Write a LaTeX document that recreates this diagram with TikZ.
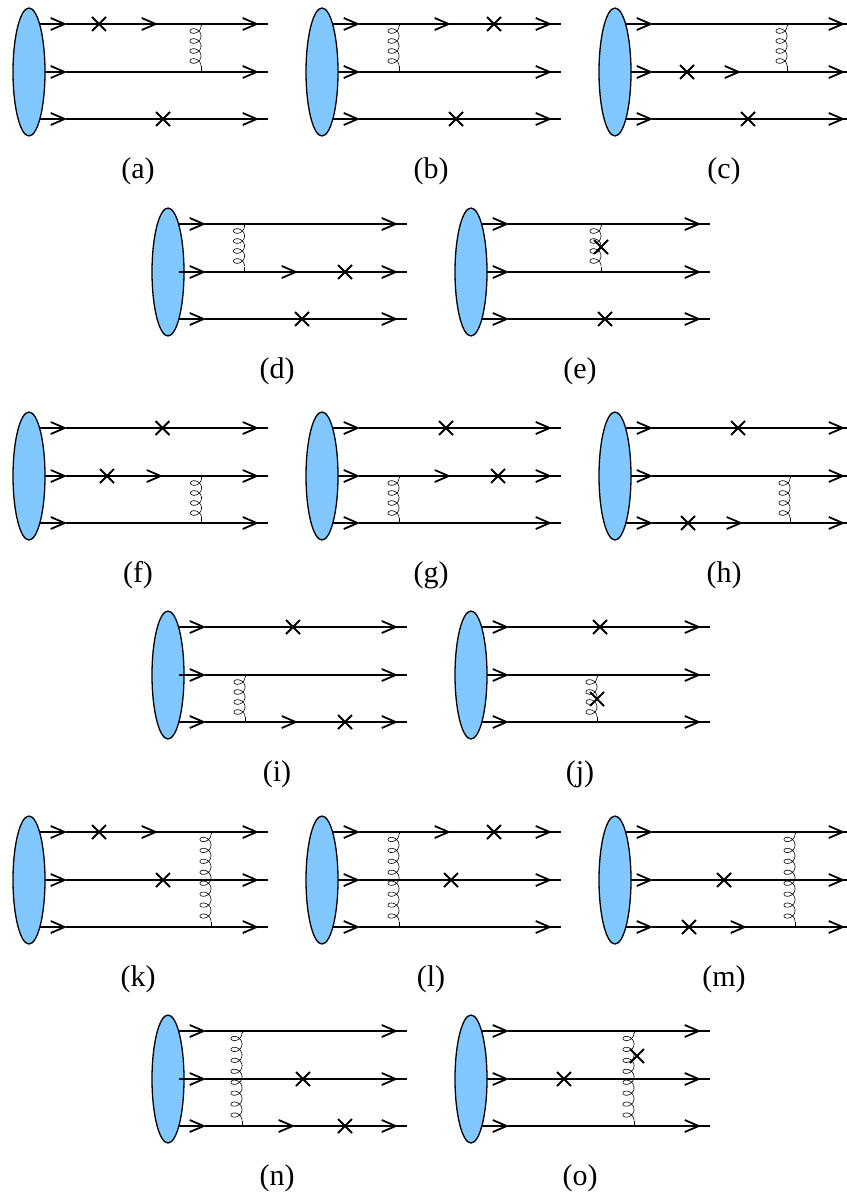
\documentclass[tikz,border=0pt]{standalone}
\usepackage{fontspec}
\setmainfont{Liberation Serif}
\usetikzlibrary{arrows.meta,shapes.geometric,shapes.misc}

\definecolor{blobblue}{RGB}{128,200,255}
\tikzset{
  quark/.style={line width=2pt,-{Straight Barb[length=14pt,width=12pt,line width=1.8pt]},shorten >=-1pt},
  plainline/.style={line width=2pt},
  blob/.style={ellipse,draw,line width=1.3pt,fill=blobblue,minimum width=32pt,minimum height=128pt,inner sep=0pt},
  gluon/.style={line width=0.6pt},
  crossmark/.style={inner sep=0pt,minimum size=12pt,cross out,draw,line width=2pt},
  panellabel/.style={font=\fontsize{30}{30}\selectfont}
}

% panel: name, x of blob, y of middle line, label
\newcommand{\panel}[4]{
  \node[blob] (#1) at (#2,#3) {};
  \node[panellabel] (#1lab) at (#2+109,#3+99.5) {(#4)};
  \coordinate (#1ta) at (#2+11,#3-48);
  \coordinate (#1ma) at (#2+16,#3);
  \coordinate (#1ba) at (#2+11,#3+47);
  \coordinate (#1tz) at (#2+239,#3-48);
  \coordinate (#1mz) at (#2+239,#3);
  \coordinate (#1bz) at (#2+239,#3+47);
  \coordinate (#1tf) at (#2+37,#3-48);
  \coordinate (#1mf) at (#2+37,#3);
  \coordinate (#1bf) at (#2+37,#3+47);
  \coordinate (#1tl) at (#2+229,#3-48);
  \coordinate (#1ml) at (#2+229,#3);
  \coordinate (#1bl) at (#2+229,#3+47);
  \foreach \r in {t,m,b} {
    \draw[quark] (#1\r a) -- (#1\r f);
    \draw[plainline] (#1\r f) -- (#1\r z);
    \draw[quark] (#1\r f) -- (#1\r l);
  }
}
% middle line reaching into the blob: panel
\newcommand{\midstart}[1]{
  \coordinate (#1mi) at ([xshift=-5pt]#1ma);
  \draw[plainline] (#1mi) -- (#1ma);
}
% extra tip on a line: panel, line, x
\newcommand{\midtip}[3]{
  \coordinate (#1#2i) at (#3,0 |- #1#2f);
  \draw[quark] (#1#2f) -- (#1#2i);
}
% cross: node name, x, y
\newcommand{\cross}[3]{\node[crossmark] (#1) at (#2,#3) {};}
% gluon: panel, upper line, lower line, x, loops
\newcommand{\gluonline}[5]{
  \coordinate (#1g1) at (#4,0 |- #1#2f);
  \coordinate (#1g2) at (#4,0 |- #1#3f);
  \coordinate (#1g3) at ([yshift=-2pt]#1g1);
  \coordinate (#1g4) at ([yshift=5.5pt]#1g2);
  \pgfmathsetmacro\gluonstep{11.875-7.5/#5}
  \draw[gluon] (#1g1) -- (#1g3);
  \draw[gluon] (#1g4) -- (#1g2);
  \begin{scope}[shift={(#1g3)}]
    \draw[gluon] plot[domain=0:360*#5,samples=36*#5]
      ({-5.5+5.5*cos(\x)},{\x/360*\gluonstep+4.5*sin(\x)});
  \end{scope}
}

\begin{document}
\begin{tikzpicture}[x=1pt,y=-1pt]
  \useasboundingbox (0,0) rectangle (846,1201);

  \panel{a}{29}{72}{a}
  \midtip{a}{t}{157}
  \cross{ax1}{99}{24}
  \cross{ax2}{163}{119}
  \gluonline{a}{t}{m}{201}{4}

  \panel{b}{322}{72}{b}
  \midtip{b}{t}{450}
  \cross{bx1}{494}{24}
  \cross{bx2}{456}{119}
  \gluonline{b}{t}{m}{399}{4}

  \panel{c}{615}{72}{c}
  \midtip{c}{m}{740}
  \cross{cx1}{687}{72}
  \cross{cx2}{748}{119}
  \gluonline{c}{t}{m}{787}{4}

  \panel{d}{168}{272}{d}
  \midstart{d}
  \midtip{d}{m}{297}
  \cross{dx1}{345}{272}
  \cross{dx2}{302}{319}
  \gluonline{d}{t}{m}{244.5}{4}

  \panel{e}{471}{272}{e}
  \gluonline{e}{t}{m}{601}{4}
  \cross{ex1}{601}{247}
  \cross{ex2}{605}{319}

  \panel{f}{29}{476}{f}
  \midtip{f}{m}{162}
  \cross{fx1}{162.5}{428}
  \cross{fx2}{107}{476}
  \gluonline{f}{m}{b}{201.5}{4}

  \panel{g}{322}{476}{g}
  \midtip{g}{m}{450}
  \cross{gx1}{446}{428}
  \cross{gx2}{498}{476}
  \gluonline{g}{m}{b}{399}{4}

  \panel{h}{615}{476}{h}
  \midtip{h}{b}{742}
  \cross{hx1}{738}{428}
  \cross{hx2}{688}{523}
  \gluonline{h}{m}{b}{790}{4}

  \panel{i}{168}{675}{i}
  \midstart{i}
  \midtip{i}{b}{297}
  \cross{ix1}{293}{627}
  \cross{ix2}{345}{722}
  \gluonline{i}{m}{b}{245}{4}

  \panel{j}{471}{675}{j}
  \gluonline{j}{m}{b}{597}{4}
  \cross{jx1}{600}{627}
  \cross{jx2}{597}{699}

  \panel{k}{29}{880}{k}
  \midtip{k}{t}{157}
  \cross{kx1}{99}{832}
  \cross{kx2}{163}{880}
  \gluonline{k}{t}{b}{211}{8}

  \panel{l}{322}{880}{l}
  \midtip{l}{t}{450}
  \cross{lx1}{494}{832}
  \cross{lx2}{451}{880}
  \gluonline{l}{t}{b}{399}{8}

  \panel{m}{615}{880}{m}
  \midtip{m}{b}{746}
  \cross{mx1}{724}{880}
  \cross{mx2}{689}{927}
  \gluonline{m}{t}{b}{795}{8}

  \panel{n}{168}{1079}{n}
  \midstart{n}
  \midtip{n}{b}{294}
  \cross{nx1}{303}{1079}
  \cross{nx2}{345}{1126}
  \gluonline{n}{t}{b}{242}{8}

  \panel{o}{471}{1079}{o}
  \gluonline{o}{t}{b}{634}{8}
  \cross{ox1}{564}{1079}
  \cross{ox2}{637}{1056}
\end{tikzpicture}
\end{document}
